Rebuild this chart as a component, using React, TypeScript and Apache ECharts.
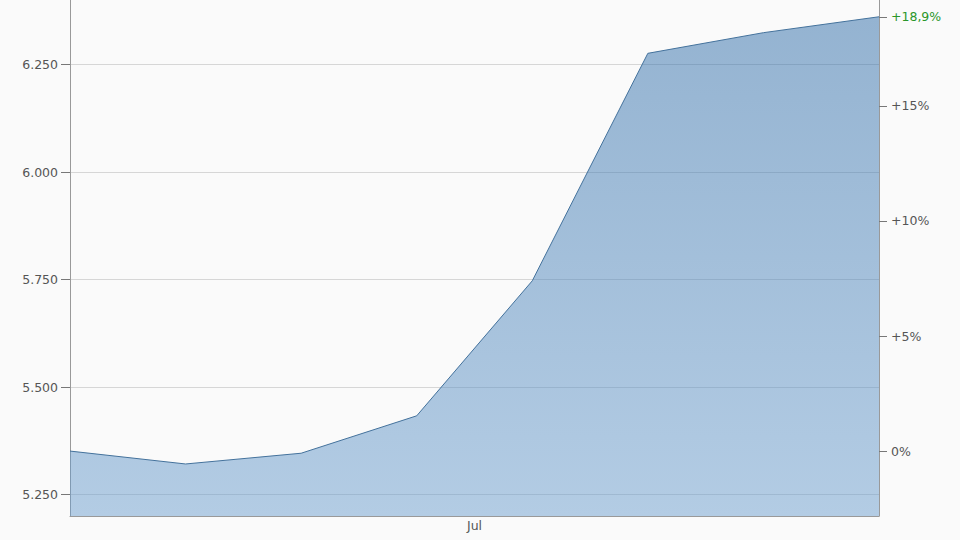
import * as echarts from 'echarts';
import { useEffect, useRef } from 'react';

// weekly closing values
const dates = [
  '2024-06-06T12:00:00Z',
  '2024-06-13T12:00:00Z',
  '2024-06-20T12:00:00Z',
  '2024-06-27T12:00:00Z',
  '2024-07-04T12:00:00Z',
  '2024-07-11T12:00:00Z',
  '2024-07-18T12:00:00Z',
  '2024-07-25T12:00:00Z'
];
const values = [5351, 5321, 5346, 5433, 5747, 6276, 6324, 6361];

const priceTicks = [5250, 5500, 5750, 6000, 6250];
const pctTicks = [0, 5, 10, 15];
const monthTicks = [{ date: '2024-07-01T00:00:00Z', label: 'Jul' }];

const yMin = 5200;
const yMax = 6400;

const base = values[0];
const toPct = (v: number) => (v / base - 1) * 100;
const lastPct = toPct(values[values.length - 1]);

const fmtPrice = (v: number) => Math.round(v).toLocaleString('de-DE');
const fmtPct = (v: number) => {
  if (Math.abs(v) < 1e-9) return '0%';
  const s = (Math.round(v * 10) / 10).toLocaleString('de-DE', { maximumFractionDigits: 1 });
  return (v > 0 ? '+' : '') + s + '%';
};

export default function App() {
  const elRef = useRef<HTMLDivElement | null>(null);

  useEffect(() => {
    if (!elRef.current) return;
    const chart = echarts.init(elRef.current, undefined, { renderer: 'svg' });

    const textColor = '#555';
    const axisColor = '#999';
    const font = 'DejaVu Sans, Verdana, sans-serif';
    const fontSize = 12.5;
    const julTs = monthTicks.map((m) => Date.parse(m.date));

    chart.setOption({
      animation: false,
      backgroundColor: '#fafafa',
      grid: { left: 70, right: 81, top: 0, bottom: 24, containLabel: false },
      xAxis: {
        // timestamps on a plain value axis, month labels placed by hand
        type: 'value',
        min: Date.parse(dates[0]),
        max: Date.parse(dates[dates.length - 1]),
        axisLine: { show: true, onZero: false, lineStyle: { color: axisColor, width: 1 } },
        axisTick: { show: false },
        splitLine: { show: false },
        axisLabel: {
          customValues: julTs,
          formatter: (v: number) => {
            const i = julTs.indexOf(v);
            return i >= 0 ? monthTicks[i].label : '';
          },
          color: textColor,
          fontSize,
          fontFamily: font,
          margin: 3
        }
      },
      yAxis: [
        {
          type: 'value',
          position: 'left',
          min: yMin,
          max: yMax,
          axisLine: { show: true, lineStyle: { color: axisColor, width: 1 } },
          axisTick: { show: true, customValues: priceTicks, length: 9, lineStyle: { color: '#777' } },
          splitLine: { show: true, lineStyle: { color: '#d6d6d6', width: 1 } },
          axisLabel: {
            customValues: priceTicks,
            formatter: (v: number) => fmtPrice(v),
            color: textColor,
            fontSize,
            fontFamily: font,
            margin: 12
          }
        },
        {
          type: 'value',
          position: 'right',
          min: toPct(yMin),
          max: toPct(yMax),
          axisLine: { show: true, lineStyle: { color: axisColor, width: 1 } },
          axisTick: { show: true, customValues: [...pctTicks, lastPct], length: 8, lineStyle: { color: '#777' } },
          splitLine: { show: false },
          axisLabel: {
            customValues: [...pctTicks, lastPct],
            formatter: (v: number) => (Math.abs(v - lastPct) < 1e-6 ? `{g|${fmtPct(v)}}` : fmtPct(v)),
            color: textColor,
            fontSize,
            fontFamily: font,
            margin: 12,
            rich: { g: { color: '#2a962a', fontSize, fontFamily: font } }
          }
        }
      ],
      series: [
        {
          type: 'line',
          data: dates.map((d, i) => [Date.parse(d), values[i]]),
          yAxisIndex: 0,
          showSymbol: false,
          symbol: 'none',
          lineStyle: { color: '#44729c', width: 1 },
          areaStyle: {
            origin: 'start',
            opacity: 1,
            color: new echarts.graphic.LinearGradient(0, 0, 0, 1, [
              { offset: 0, color: 'rgba(46, 108, 168, 0.5)' },
              { offset: 1, color: 'rgba(108, 158, 206, 0.5)' }
            ])
          }
        }
      ]
    });

    return () => chart.dispose();
  }, []);

  return (
    <div
      ref={elRef}
      style={{ position: 'fixed', left: 0, top: 0, width: 960, height: 540, background: '#fafafa' }}
    />
  );
}
